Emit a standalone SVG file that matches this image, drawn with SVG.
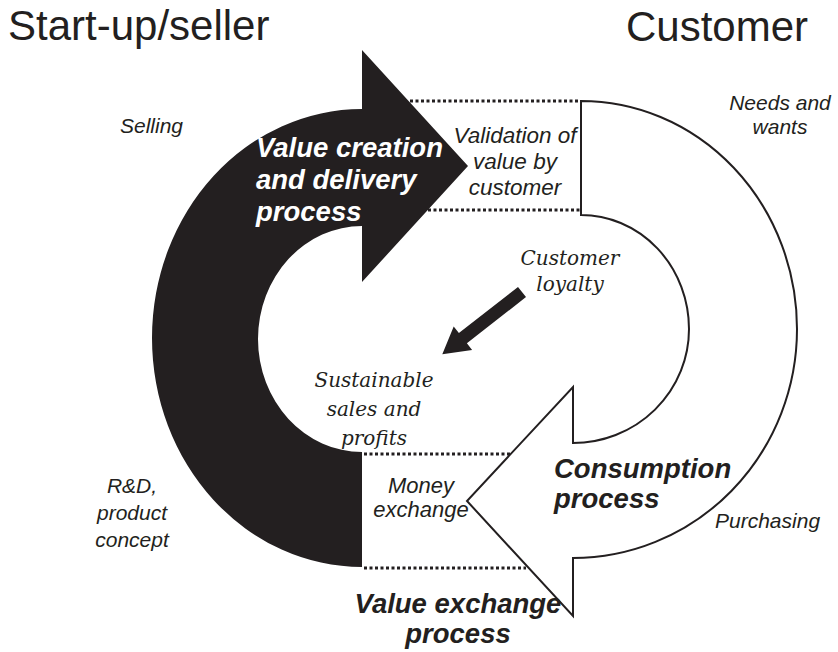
<svg xmlns="http://www.w3.org/2000/svg" width="838" height="652" viewBox="0 0 838 652">
<style>
text{fill:#231f20;font-family:"Liberation Sans",Arial,sans-serif}
.title{font-size:42px}
.lab{font-size:21px;font-style:italic}
.lab2{font-size:22.5px;font-style:italic}
.big{font-size:27.5px;font-style:italic;font-weight:bold}
.ser{font-family:"DejaVu Serif","Liberation Serif",serif;font-size:20px;font-style:italic}
.dot{stroke:#231f20;stroke-width:3;stroke-dasharray:3 2.5;fill:none}
</style>
<rect width="838" height="652" fill="#fff"/>
<g id="titles">
<text class="title" x="8" y="40">Start-up/seller</text>
<text class="title" x="626" y="41">Customer</text>
</g>
<g id="value-creation">
<path d="M362,109 A210,229 0 0 0 152,338 A210,229 0 0 0 362,567 L362,452 A104,113 0 0 1 258,339 A104,113 0 0 1 362,226 L362,282 L468,166 L362,50 Z" fill="#231f20"/>
<text class="big" style="fill:#fff" x="256" y="157">Value creation</text>
<text class="big" style="fill:#fff" x="256" y="189">and delivery</text>
<text class="big" style="fill:#fff" x="256" y="221">process</text>
</g>
<g id="consumption">
<path d="M581,101 A216,228 0 0 1 797,329 A224,229 0 0 1 573,558 L573,616 L467,501 L573,387 L573,443 A116,114 0 0 0 689,329 A108,114 0 0 0 581,215 Z" fill="#fff" stroke="#231f20" stroke-width="2" stroke-linejoin="miter"/>
<text class="big" x="554" y="478">Consumption</text>
<text class="big" x="554" y="508">process</text>
</g>
<g id="connectors">
<line class="dot" x1="410" y1="101" x2="580" y2="101"/>
<line class="dot" x1="428" y1="210" x2="580" y2="210"/>
<line class="dot" x1="364" y1="454" x2="511" y2="454"/>
<line class="dot" x1="364" y1="568" x2="526" y2="568"/>
<polygon points="518,286.9 458.9,333.1 453.7,326.4 442.3,354.2 472.1,350 466.9,343.3 526,297.1" fill="#231f20"/>
</g>
<g id="validation">
<text class="lab2" text-anchor="middle" x="515" y="143">Validation of</text>
<text class="lab2" text-anchor="middle" x="515" y="169">value by</text>
<text class="lab2" text-anchor="middle" x="515" y="195">customer</text>
</g>
<g id="needs">
<text class="lab" text-anchor="middle" x="780" y="110">Needs and</text>
<text class="lab" text-anchor="middle" x="780" y="134">wants</text>
</g>
<g id="selling">
<text class="lab" text-anchor="end" x="183" y="133">Selling</text>
</g>
<g id="rd">
<text class="lab" text-anchor="middle" x="132" y="493">R&amp;D,</text>
<text class="lab" text-anchor="middle" x="132" y="520">product</text>
<text class="lab" text-anchor="middle" x="132" y="547">concept</text>
</g>
<g id="loyalty">
<text class="ser" text-anchor="middle" x="570" y="265">Customer</text>
<text class="ser" text-anchor="middle" x="570" y="291">loyalty</text>
</g>
<g id="sustainable">
<text class="ser" text-anchor="middle" x="374" y="387">Sustainable</text>
<text class="ser" text-anchor="middle" x="374" y="416">sales and</text>
<text class="ser" text-anchor="middle" x="374" y="445">profits</text>
</g>
<g id="money">
<text class="lab2" style="font-size:22px" text-anchor="middle" x="421" y="493">Money</text>
<text class="lab2" style="font-size:22px" text-anchor="middle" x="421" y="517">exchange</text>
</g>
<g id="purchasing">
<text class="lab" x="715" y="528">Purchasing</text>
</g>
<g id="value-exchange">
<text class="big" text-anchor="middle" x="458" y="613">Value exchange</text>
<text class="big" text-anchor="middle" x="458" y="643">process</text>
</g>
</svg>
